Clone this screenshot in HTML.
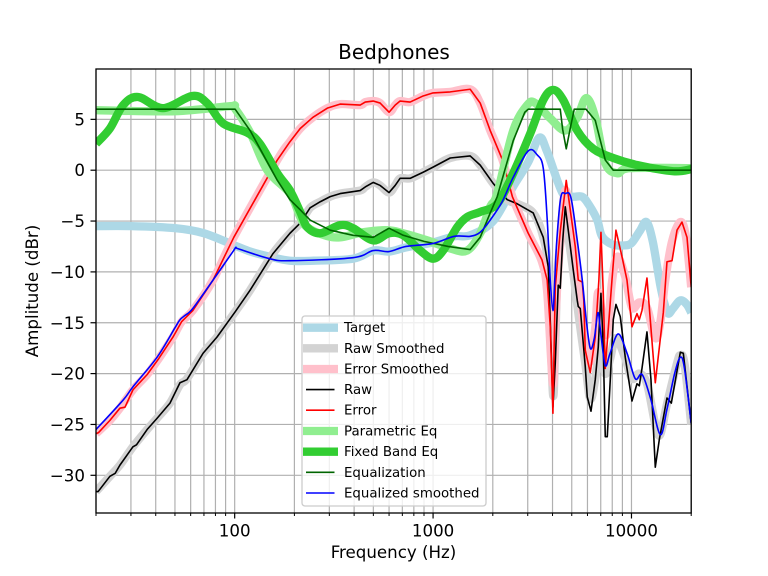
<!DOCTYPE html>
<html>
<head>
<meta charset="utf-8">
<title>Bedphones</title>
<style>
html,body{margin:0;padding:0;background:#fff;}
svg{display:block;font-family:"DejaVu Sans","Liberation Sans",sans-serif;}
</style>
</head>
<body>
<svg id="chart" width="768" height="576" viewBox="0 0 768 576">
<defs><clipPath id="plot-clip"><rect x="96" y="69" width="595.2" height="444"></rect></clipPath></defs>
<rect x="0" y="0" width="768" height="576" fill="#fff"></rect>
<g id="grid"></g>
<g id="series" clip-path="url(#plot-clip)"></g>
<g id="axes"></g>
<rect x="96" y="69" width="595.2" height="444" fill="none" stroke="#000" stroke-width="1.3"></rect>
<text x="394" y="59" font-size="20" text-anchor="middle">Bedphones</text>
<text x="393.5" y="558" font-size="16.67" text-anchor="middle">Frequency (Hz)</text>
<text transform="translate(38,291) rotate(-90)" font-size="16.67" text-anchor="middle">Amplitude (dBr)</text>
<g font-size="13.35">
<rect x="302" y="316" width="184" height="190" rx="3" fill="#fff" fill-opacity="0.8" stroke="#ccc" stroke-width="1.3"></rect>
<g><line x1="303" x2="338" y1="327.7" y2="327.7" stroke="#add8e6" stroke-width="8.3"></line><text x="344" y="332.2">Target</text></g>
<g><line x1="303" x2="338" y1="348.3" y2="348.3" stroke="#d3d3d3" stroke-width="8.3"></line><text x="344" y="352.8">Raw Smoothed</text></g>
<g><line x1="303" x2="338" y1="369" y2="369" stroke="#ffc0cb" stroke-width="8.3"></line><text x="344" y="373.5">Error Smoothed</text></g>
<g><line x1="306" x2="334.5" y1="389.6" y2="389.6" stroke="#000" stroke-width="1.6"></line><text x="344" y="394.1">Raw</text></g>
<g><line x1="306" x2="334.5" y1="410.2" y2="410.2" stroke="#f00" stroke-width="1.6"></line><text x="344" y="414.7">Error</text></g>
<g><line x1="303" x2="338" y1="431" y2="431" stroke="#90ee90" stroke-width="8.3"></line><text x="344" y="435.5">Parametric Eq</text></g>
<g><line x1="303" x2="338" y1="451.7" y2="451.7" stroke="#32cd32" stroke-width="8.3"></line><text x="344" y="456.2">Fixed Band Eq</text></g>
<g><line x1="306" x2="334.5" y1="472.3" y2="472.3" stroke="#006400" stroke-width="1.6"></line><text x="344" y="476.8">Equalization</text></g>
<g><line x1="306" x2="334.5" y1="493" y2="493" stroke="#00f" stroke-width="1.6"></line><text x="344" y="497.5">Equalized smoothed</text></g>
</g>
</svg>
<script>
const majorFreqTicks = [100, 1000, 10000];
const minorFreqTicks = [20,30,40,50,60,70,80,90,200,300,400,500,600,700,800,900,2000,3000,4000,5000,6000,7000,8000,9000,20000];
const dbTicks = [5, 0, -5, -10, -15, -20, -25, -30];

const targetFreq = [20,30,50,70,100,120,150,190,250,395,499,600,730,1000,1280,1540,2010,2535,3017,3428,3760,4477,5029,5629,6100,6722,7100,8000,9100,9970,11000,11900,12800,13965,14700,15330,16200,17630,19000,20000];
const targetDb = [-5.5,-5.5,-5.7,-6.2,-7.4,-8.0,-8.5,-8.9,-8.9,-8.7,-7.9,-8.0,-7.6,-7.1,-6.5,-6.4,-5.0,-1.6,0.8,3.2,1.8,-2.2,-2.6,-2.6,-3.4,-4.9,-6.5,-7.3,-7.4,-7.2,-6.0,-5.1,-7.0,-11.3,-13.2,-14.1,-13.6,-12.8,-13.2,-14.0];

const rawSmoothFreq = [20,23.5,26.4,30.7,36.2,40.6,47.2,53,57.5,69.3,81.5,100.8,119.6,156,190,214,240,270,303,340,429,455,499,541,600,644,682,766,891,1000,1220,1538,1728,2009,2364,2655,3197,3592,3805,4019,4128,4274,4637,4802,5088,5392,5848,6197,6568,6800,7017,7377,7818,8351,9304,10058,10950,11970,13183,13965,15100,16960,17630,18500,20000];
const rawSmoothDb = [-31.6,-30.1,-29.0,-27.2,-25.5,-24.4,-22.9,-21.1,-20.5,-18,-16.4,-13.9,-11.8,-8.2,-6.2,-5.2,-3.7,-3.1,-2.6,-2.3,-2.0,-1.65,-1.2,-1.5,-2.2,-1.5,-0.8,-0.8,-0.2,0.3,1.2,1.4,0.5,-1.3,-2.9,-3.3,-4.2,-6.6,-10,-22,-17,-9,-5,-6.5,-10,-14,-19,-22.5,-20.5,-18,-17,-20,-18.5,-16.5,-18.5,-20.5,-20,-21,-25,-26,-23,-19,-18.2,-19,-25];

const errorSmoothFreq = [20,23.5,26.4,30.7,36.2,41.5,48.9,54,61.5,77.8,99,164,190,214,248,293,340,429,455,499,541,600,644,682,766,891,1000,1220,1538,1728,1941,2240,2510,3017,3537,3760,4019,4128,4375,4637,4954,5207,5519,5848,6197,6568,6800,7207,7551,7973,8480,9304,10058,10950,11970,13183,13965,14810,16010,17630,18800,20000];
const errorSmoothDb = [-25.9,-24.6,-23.4,-21.6,-20.1,-18.5,-16.4,-14.9,-13.8,-10.8,-6.6,1.0,2.8,4.1,5.2,6.1,6.5,6.4,6.7,6.8,6.6,5.7,6.4,6.8,6.7,7.3,7.6,7.7,7.96,6.6,3.9,1,-2.6,-6.2,-9,-12,-21,-15,-7,-2,-5,-8.5,-12,-17,-18.8,-15.5,-12,-15,-16,-11,-8.5,-10.5,-13.5,-13,-13.5,-16.5,-15,-10.8,-7,-5.1,-6.5,-11.5];

const rawFreq = [20,20.5,23.5,25,26.4,30.7,32,36.2,40.6,47.2,53,57.5,69.3,81.5,100.8,119.6,156,190,214,240,270,303,340,429,455,499,541,600,644,682,766,891,1000,1220,1538,1728,2009,2364,2655,3197,3592,3805,3900,4019,4128,4274,4375,4500,4637,4802,5088,5330,5392,5519,5848,5986,6250,6568,6800,7017,7207,7377,7551,7818,8095,8351,8780,9304,10058,10660,10950,11295,11970,12540,13183,13810,15100,15880,17630,18250,20000];
const rawDb = [-31.6,-31.6,-30.1,-29.8,-29.0,-27.2,-27,-25.5,-24.4,-22.9,-20.9,-20.6,-18,-16.4,-13.9,-11.8,-8.2,-6.2,-5.2,-3.7,-3.1,-2.6,-2.3,-2.0,-1.65,-1.2,-1.5,-2.2,-1.5,-0.8,-0.8,-0.2,0.3,1.2,1.4,0.5,-1.3,-2.9,-3.3,-4.2,-6.6,-9.5,-15,-23.3,-19,-11.3,-11.6,-7,-3.6,-5.9,-9.8,-12.8,-13.4,-13.6,-19.3,-22.3,-23.7,-20.6,-17.4,-12.1,-17.4,-26.2,-26.2,-20.6,-14.7,-13.2,-14.4,-18.4,-22.7,-21,-21.2,-19.5,-15.9,-20.6,-29.2,-26.5,-22.4,-22.9,-17.9,-18,-24.9];

const errorFreq = [20,20.6,23.5,26.4,28,30.7,36.2,41.5,48.9,54,61.5,77.8,99,164,190,214,248,293,340,429,455,499,541,600,644,682,766,891,1000,1220,1538,1728,1941,2240,2510,3017,3537,3760,3900,4019,4128,4375,4691,5207,5392,5649,5750,5848,6197,6568,6850,7017,7207,7377,7973,8351,8957,9490,10058,10660,10950,11295,11970,13183,14470,15100,16010,16960,17970,19050,20000];
const errorDb = [-25.9,-25.8,-24.6,-23.4,-23.3,-21.6,-20.1,-18.5,-16.4,-14.9,-13.8,-10.8,-6.6,1.0,2.8,4.1,5.2,6.1,6.5,6.4,6.7,6.8,6.6,5.7,6.4,6.8,6.7,7.3,7.6,7.7,7.96,6.6,3.9,1,-2.6,-6.2,-8.8,-10.8,-15.5,-23.9,-11.5,-6,-1,-7.5,-10.8,-11,-12.8,-17.7,-19.9,-16.4,-10.8,-6.1,-12,-19.5,-10.8,-5.9,-8.5,-10.8,-15.4,-14.1,-14.7,-13.8,-10.6,-20.9,-14,-9,-8.9,-5.9,-5.1,-6.6,-11.5];

const parametricFreq = [20,50,94.8,100,119.6,146,190,214,232,284,340,444,587,707,934,1220,1485,1728,1941,2105,2535,2982,3273,3895,4637,5330,5917,6568,7377,8480,9862,20000];
const parametricDb = [5.9,5.8,6.3,6.1,3.7,0,-2.3,-4.6,-5.6,-6.4,-6.6,-6.1,-5.9,-6.2,-6.9,-7.7,-7.9,-6.2,-3.6,-2.3,3.9,6.4,6.6,5.1,3.9,5.2,7.1,5.2,0.7,-0.3,0.2,0.2];

const fixedBandFreq = [20,23.5,27.4,32.6,43.5,61,72.6,87.4,115.5,134,164,190,214,232,270,340,395,499,600,707,861,1000,1124,1323,1485,1728,2105,2535,3088,3592,4034,4530,5330,6417,8095,10700,16250,20000];
const fixedBandDb = [2.6,4.1,6.4,7.2,6.1,7.3,6.6,4.6,3.7,2.6,-0.3,-2,-4.1,-5.6,-6.2,-5.4,-5.7,-6.9,-6.2,-6.4,-7.9,-8.7,-7.9,-5.6,-4.6,-4.1,-3.3,-0.3,3.6,6.9,7.9,6.9,3.9,2.1,1.2,0.5,-0.1,0.1];

const equalizationFreq = [20,100.5,119.6,164,190,214,240,303,395,499,600,707,900,1190,1538,1728,1941,2105,2535,2900,3017,4375,4500,4691,4900,5146,5900,6568,7377,8095,20000];
const equalizationDb = [6,6,3.9,-1,-2.9,-3.9,-4.9,-5.9,-6.4,-6.6,-5.7,-6.4,-7,-7.5,-7.8,-6.6,-4.2,-2.6,2.9,5.7,6,6,4,2.1,4,6,6,4.9,1,0,0];

const equalizedFreq = [20,27.4,30.7,40.6,50,53,56,61.5,77.8,98,101.4,105,150,190,395,499,600,730,1000,1280,1538,1728,1941,2230,2535,3017,3350,3592,3762,3895,4019,4100,4200,4400,4637,4954,5330,5649,5900,6197,6500,6777,7000,7377,7800,8579,9500,10450,11330,12500,13965,15100,16500,17630,18500,20000];
const equalizedDb = [-25.5,-22.6,-21.3,-18.4,-15.5,-14.7,-14.3,-13.6,-10.8,-8,-7.6,-7.75,-8.7,-8.9,-8.6,-7.9,-8,-7.5,-7.2,-6.5,-6.5,-6.1,-4.9,-3.1,-0.7,1.9,1.5,0.2,-4.9,-10.8,-13.8,-11,-7,-2.7,-2.3,-2.7,-6.9,-10.8,-14.5,-17.5,-16.5,-14,-16,-19.2,-18,-16.1,-18,-20.5,-20.1,-22.5,-26,-23.5,-20,-18.4,-19.5,-24.9];

const NS = 'http://www.w3.org/2000/svg';
const plotLeft = 96, plotRight = 691.2, plotTop = 69, plotBottom = 513;
function xScale(f) { return plotLeft + (Math.log10(f) - Math.log10(20)) / 3 * (plotRight - plotLeft); }
function yScale(db) { return 170.2 - db * 10.17; }

function smoothPath(freqs, vals) {
  const p = freqs.map((f, i) => [xScale(f), yScale(vals[i])]);
  let d = 'M' + p[0][0].toFixed(2) + ' ' + p[0][1].toFixed(2);
  for (let i = 0; i < p.length - 1; i++) {
    const a = p[Math.max(i - 1, 0)], b = p[i], c = p[i + 1], e = p[Math.min(i + 2, p.length - 1)];
    d += 'C' + (b[0] + (c[0] - a[0]) / 6).toFixed(2) + ' ' + (b[1] + (c[1] - a[1]) / 6).toFixed(2) + ' ' +
         (c[0] - (e[0] - b[0]) / 6).toFixed(2) + ' ' + (c[1] - (e[1] - b[1]) / 6).toFixed(2) + ' ' +
         c[0].toFixed(2) + ' ' + c[1].toFixed(2);
  }
  return d;
}
function linePath(freqs, vals) {
  return freqs.map((f, i) => (i ? 'L' : 'M') + xScale(f).toFixed(2) + ' ' + yScale(vals[i]).toFixed(2)).join('');
}
function drawSeries(name, d, color, width) {
  const el = document.createElementNS(NS, 'path');
  
  
  el.setAttribute('d', d);
  el.setAttribute('fill', 'none');
  el.setAttribute('stroke', color);
  el.setAttribute('stroke-width', width);
  el.setAttribute('stroke-linejoin', 'round');
  document.getElementById('series').appendChild(el);
}
function addLine(parentId, name, x1, y1, x2, y2, color, width) {
  const el = document.createElementNS(NS, 'line');
  
  
  el.setAttribute('x1', x1);
  el.setAttribute('y1', y1);
  el.setAttribute('x2', x2);
  el.setAttribute('y2', y2);
  el.setAttribute('stroke', color);
  el.setAttribute('stroke-width', width);
  document.getElementById(parentId).appendChild(el);
}
function addLabel(name, x, y, text, anchor) {
  const el = document.createElementNS(NS, 'text');
  
  
  el.setAttribute('x', x);
  el.setAttribute('y', y);
  el.setAttribute('font-size', '16.67');
  el.setAttribute('text-anchor', anchor);
  el.textContent = text;
  document.getElementById('axes').appendChild(el);
}

minorFreqTicks.forEach(f => {
  const x = xScale(f);
  addLine('grid', 'minor-grid-line', x, plotTop, x, plotBottom, '#b0b0b0', 1.2);
  addLine('axes', 'minor-tick', x, plotBottom, x, plotBottom + 3, '#000', 1);
});
majorFreqTicks.forEach(f => {
  const x = xScale(f);
  addLine('grid', 'major-grid-line', x, plotTop, x, plotBottom, '#b0b0b0', 1.2);
  addLine('axes', 'major-tick', x, plotBottom, x, plotBottom + 5.5, '#000', 1.2);
  addLabel('x-tick-label', x, 536.5, String(f), 'middle');
});
dbTicks.forEach(v => {
  const y = yScale(v);
  addLine('grid', 'horizontal-grid-line', plotLeft, y, plotRight, y, '#b0b0b0', 1.2);
  addLine('axes', 'y-tick', plotLeft - 5.5, y, plotLeft, y, '#000', 1.2);
  addLabel('y-tick-label', 85, y + 6, String(v).replace('-', '\u2212'), 'end');
});

drawSeries('target-line', smoothPath(targetFreq, targetDb), '#add8e6', 8.3);
drawSeries('raw-smoothed-line', smoothPath(rawSmoothFreq, rawSmoothDb), '#d3d3d3', 8.3);
drawSeries('error-smoothed-line', smoothPath(errorSmoothFreq, errorSmoothDb), '#ffc0cb', 8.3);
drawSeries('raw-line', linePath(rawFreq, rawDb), '#000', 1.6);
drawSeries('error-line', linePath(errorFreq, errorDb), '#f00', 1.6);
drawSeries('parametric-eq-line', smoothPath(parametricFreq, parametricDb), '#90ee90', 8.3);
drawSeries('fixed-band-eq-line', smoothPath(fixedBandFreq, fixedBandDb), '#32cd32', 8.3);
drawSeries('equalization-line', linePath(equalizationFreq, equalizationDb), '#006400', 1.6);
drawSeries('equalized-smoothed-line', smoothPath(equalizedFreq, equalizedDb), '#00f', 1.6);
</script>
</body>
</html>
